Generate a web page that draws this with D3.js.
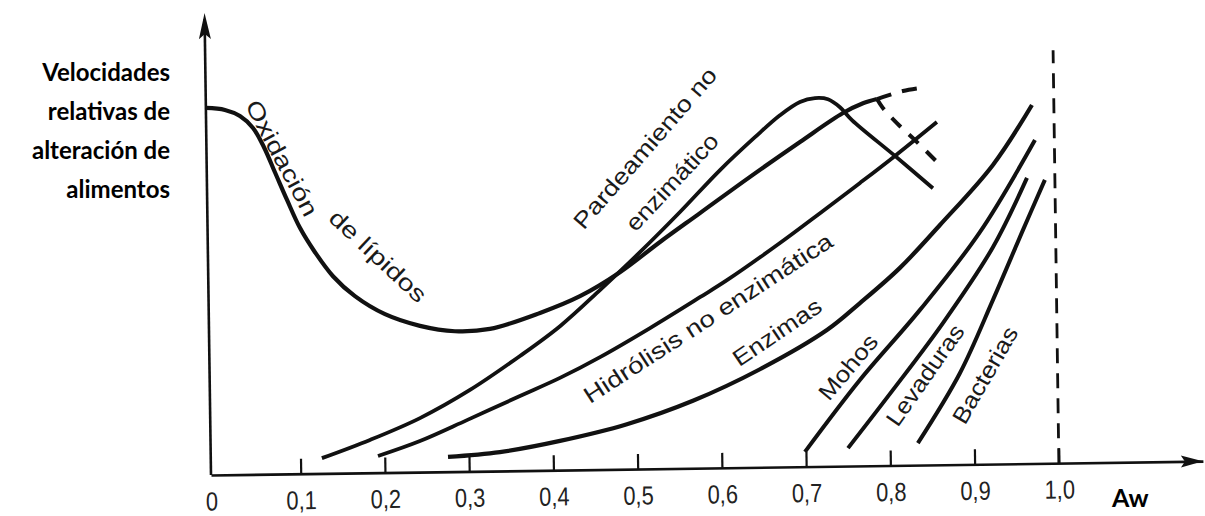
<!DOCTYPE html>
<html><head><meta charset="utf-8">
<script src="https://cdn.jsdelivr.net/npm/d3@7"></script>
<style>body{margin:0;background:#fff}svg{display:block}</style>
</head><body>
<svg id="c" width="1205" height="516"></svg>
<script>
// ---- data (Aw, relative rate 0-100) ----
const xTicks = [0, 0.1, 0.2, 0.3, 0.4, 0.5, 0.6, 0.7, 0.8, 0.9, 1.0];
const xTickLabels = ["0", "0,1", "0,2", "0,3", "0,4", "0,5", "0,6", "0,7", "0,8", "0,9", "1,0"];

const oxidacion = [[-0.0065,81.6],[0.0161,81.1],[0.0338,79.7],[0.0491,77.0],[0.0618,72.7],[0.0744,67.1],[0.0883,60.9],[0.1033,54.6],[0.1206,49.2],[0.1416,43.8],[0.1673,39.3],[0.2027,35.2],[0.244,32.5],[0.2854,31.2],[0.327,31.6],[0.3867,35.0],[0.4344,38.6],[0.4822,43.8],[0.5303,50.4],[0.5782,56.7],[0.6382,64.6],[0.6981,72.2],[0.7496,78.5],[0.7735,80.6],[0.7902,81.5]];
const oxidacionAlta = [[0.7902,81.5],[0.8211,83.2],[0.8413,83.8]];
const oxidacionBaja = [[0.7902,81.5],[0.797,79.5],[0.8134,76.1],[0.837,71.8],[0.8615,67.1]];
const pardeamiento = [[0.1254,3.4],[0.1828,7.3],[0.2425,12.0],[0.3023,18.1],[0.3622,25.5],[0.4102,32.0],[0.4582,39.9],[0.5063,48.2],[0.5545,57.0],[0.6027,66.2],[0.6447,73.4],[0.6747,78.2],[0.6987,81.1],[0.7166,81.9],[0.732,81.6],[0.7461,79.8],[0.7601,76.9],[0.8106,68.8],[0.8551,61.5]];
const hidrolisis = [[0.192,3.7],[0.2421,6.9],[0.2982,11.4],[0.3615,16.6],[0.4093,20.5],[0.4572,25.0],[0.517,31.3],[0.5768,38.0],[0.6091,41.7],[0.6726,49.8],[0.7242,56.8],[0.7686,62.9],[0.8106,68.8],[0.8609,76.2]];
const enzimas = [[0.2751,3.3],[0.3368,4.2],[0.4083,6.5],[0.488,10.0],[0.5667,15.0],[0.6468,21.8],[0.7269,30.3],[0.7666,36.2],[0.8146,43.9],[0.8628,53.3],[0.9267,66.5],[0.974,79.7]];
const mohos = [[0.6988,3.3],[0.7652,19.1],[0.8377,34.5],[0.9101,51.6],[0.977,71.9]];
const levaduras = [[0.75,4.0],[0.8043,16.8],[0.8647,31.5],[0.9253,48.2],[0.9669,63.5]];
const bacterias = [[0.833,4.9],[0.884,20.3],[0.9245,36.5],[0.9612,51.9],[0.9881,63.0]];
const limite = [[1.0,0],[1.0,91.8]];

const yTitle = ["Velocidades", "relativas de", "alteración de", "alimentos"];
const xTitle = "Aw";

// ---- drawing ----
const svg = d3.select("#c");
svg.append("rect").attr("width",1205).attr("height",516).attr("fill","#fff");

const x = d3.scaleLinear().domain([-0.0065, 1.171]).range([211, 1203]);
const y = d3.scaleLinear().domain([0, 102.7]).range([475, 13]);
const ink = "#111";

const g = svg.append("g").attr("transform", "rotate(-0.8,211,475)");

// x axis
const ax = d3.axisBottom(x)
  .tickValues(xTicks)
  .tickFormat((d,i)=>xTickLabels[i])
  .tickSizeInner(-15).tickSizeOuter(0).tickPadding(17);
const axG = g.append("g").attr("transform", `translate(0,${y(0)})`).call(ax);
axG.select(".domain").attr("stroke", ink).attr("stroke-width", 2.6);
axG.selectAll(".tick line").attr("stroke", ink).attr("stroke-width", 2.2)
   .filter(d=>d===0).remove();
axG.selectAll(".tick text")
   .attr("font-family","'Liberation Sans', Arial, sans-serif")
   .attr("font-size", 26).attr("fill", "#222")
   .attr("transform", "scale(0.84,1)");
axG.selectAll(".tick").filter(d=>d===0).select("text")
   .attr("x", (x(x.domain()[0]) - x(0)) / 0.84);

// x arrow
const xe = x(x.domain()[1]), y0 = y(0);
g.append("path").attr("d", `M${xe},${y0} L${xe-22},${y0-6} L${xe-18},${y0} L${xe-22},${y0+6} Z`).attr("fill", ink);

// y axis + arrow
const xa = x(x.domain()[0]), yt = y(y.domain()[1]);
g.append("line").attr("x1", xa).attr("x2", xa).attr("y1", y0).attr("y2", yt + 6)
  .attr("stroke", ink).attr("stroke-width", 2.6);
g.append("path").attr("d", `M${xa},${yt} L${xa-6},${yt+26} L${xa},${yt+21} L${xa+6},${yt+26} Z`).attr("fill", ink);

// curves
const line = d3.line().x(d=>x(d[0])).y(d=>y(d[1])).curve(d3.curveCatmullRom.alpha(0.5));
const draw = (data, opt={}) => g.append("path").datum(data).attr("d", line)
  .attr("fill","none").attr("stroke", ink).attr("stroke-width", opt.w||4)
  .attr("stroke-linecap", "butt").attr("stroke-linejoin","round")
  .attr("stroke-dasharray", opt.dash||null);

draw(oxidacion, {w:4.2});
draw(oxidacionAlta, {w:4, dash:"15 11"});
draw(oxidacionBaja, {w:4, dash:"13 11"});
draw(pardeamiento, {w:3.8});
draw(hidrolisis, {w:3.8});
draw(enzimas, {w:4.2});
draw(mohos, {w:4});
draw(levaduras, {w:4});
draw(bacterias, {w:4});
g.append("path").datum(limite).attr("d", d3.line().x(d=>x(d[0])).y(d=>y(d[1])))
  .attr("stroke", ink).attr("stroke-width", 2.8).attr("stroke-dasharray","15 10").attr("fill","none");

// curve labels
const labels = [
  {t:"Oxidación", cx:282, cy:158, a:62, L:128},
  {t:"de lípidos", cx:378, cy:256, a:43, L:124},
  {t:"Pardeamiento no", cx:645, cy:148, a:-49, L:205},
  {t:"enzimático", cx:672, cy:182, a:-47, L:124},
  {t:"Hidrólisis no enzimática", cx:708, cy:318, a:-33, L:292},
  {t:"Enzimas", cx:777, cy:332, a:-34, L:102},
  {t:"Mohos", cx:848, cy:367, a:-50, L:78},
  {t:"Levaduras", cx:925, cy:375, a:-55, L:118},
  {t:"Bacterias", cx:985, cy:375, a:-60, L:108}
];
svg.append("g").selectAll("text").data(labels).join("text")
  .attr("transform", d=>`translate(${d.cx},${d.cy}) rotate(${d.a})`)
  .attr("text-anchor","middle").attr("dy","0.35em")
  .attr("textLength", d=>d.L).attr("lengthAdjust","spacingAndGlyphs")
  .attr("font-family","'Liberation Sans', Arial, sans-serif").attr("font-size", 23)
  .attr("fill","#1a1a1a").text(d=>d.t);

// axis titles
svg.append("g").selectAll("text").data(yTitle).join("text")
  .attr("x", 170).attr("y", (d,i)=>81 + i*39).attr("text-anchor","end")
  .attr("font-family","Lato, 'Open Sans', sans-serif").attr("font-weight","bold")
  .attr("font-size", 24).attr("fill","#000").text(d=>d);
svg.append("text").attr("x", 1112).attr("y", 507)
  .attr("font-family","Lato, 'Open Sans', sans-serif").attr("font-weight","bold")
  .attr("font-size", 25).attr("fill","#000").text(xTitle);
</script>
</body></html>
